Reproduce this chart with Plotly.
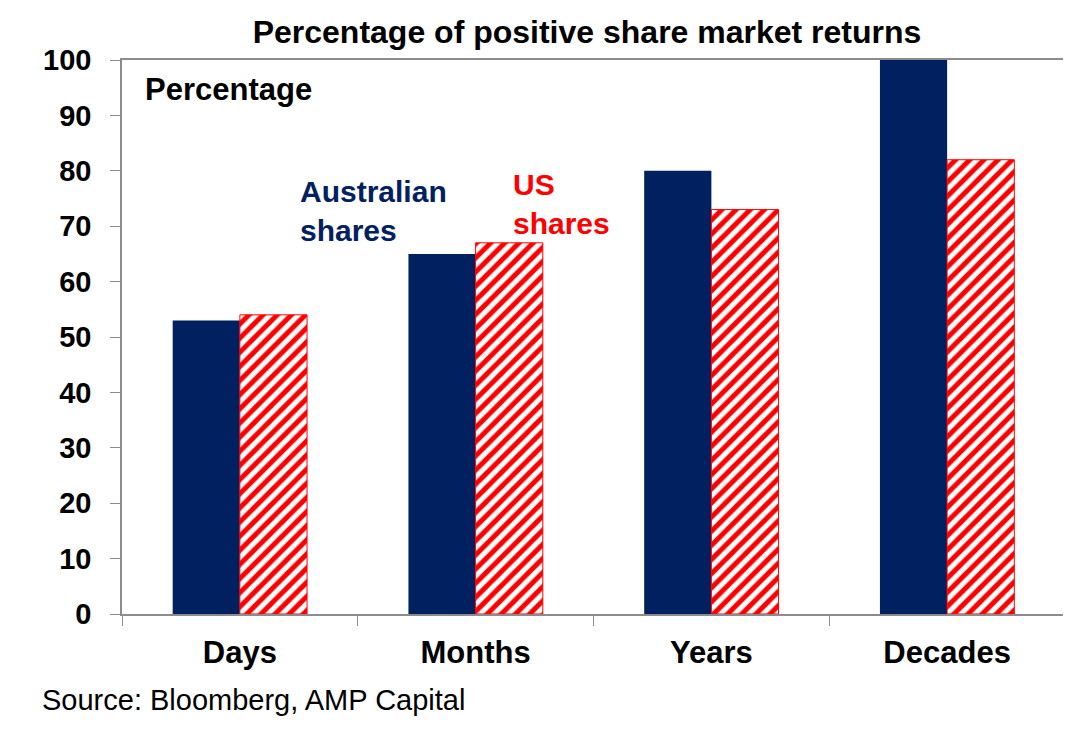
import plotly.graph_objects as go

# === DATA ===
periods = ['Days', 'Months', 'Years', 'Decades']
australian_shares = [53, 65, 80, 100]
us_shares = [54, 67, 73, 82]

navy = '#002060'
red = '#FF0000'
axis_grey = '#8C8C8C'

fig = go.Figure()

fig.add_trace(go.Bar(
    x=periods, y=australian_shares, name='Australian shares',
    marker=dict(color=navy, line=dict(width=0)),
))

fig.add_trace(go.Bar(
    x=periods, y=us_shares, name='US shares',
    marker=dict(
        color='white',
        line=dict(color=red, width=1),
        pattern=dict(shape='/', fillmode='replace', fgcolor=red, fgopacity=1,
                     bgcolor='white', size=10, solidity=0.5),
    ),
))

# page body has an 8px margin, so the figure is a bit smaller than the window
fig.update_layout(
    width=1063, height=727,
    margin=dict(l=114, r=4, t=52, b=121),
    paper_bgcolor='white', plot_bgcolor='white',
    barmode='group', bargap=0.43, bargroupgap=0,
    showlegend=False,
    font=dict(family='Arial, Liberation Sans, sans-serif', color='black'),
    title=dict(
        text='<b>Percentage of positive share market returns</b>',
        x=0.5447, xanchor='center', y=0.967, yanchor='middle',
        font=dict(size=32, color='black'),
    ),
)

fig.update_xaxes(
    showline=True, linecolor=axis_grey, linewidth=1.5, mirror=True,
    ticks='outside', tickson='boundaries', ticklen=10, tickcolor=axis_grey,
    tickfont=dict(size=31, color='black'),
    tickprefix='<b>', ticksuffix='</b>', ticklabelstandoff=10,
    showgrid=False,
)

fig.update_yaxes(
    range=[0, 100], dtick=10,
    showline=True, linecolor=axis_grey, linewidth=1.5, mirror=True,
    ticks='outside', ticklen=10, tickcolor=axis_grey,
    tickfont=dict(size=29, color='black'),
    tickprefix='<b>', ticksuffix='</b>', ticklabelstandoff=13,
    showgrid=False, zeroline=False,
)

# in-plot labels
fig.add_annotation(
    text='<b>Percentage</b>', xref='paper', yref='paper',
    x=0.022, y=0.946, xanchor='left', yanchor='middle', showarrow=False,
    font=dict(size=31, color='black'),
)
fig.add_annotation(
    text='<b>Australian<br>shares</b>', xref='paper', yref='paper',
    x=0.187, y=0.727, xanchor='left', yanchor='middle', showarrow=False, align='left',
    font=dict(size=30, color=navy),
)
fig.add_annotation(
    text='<b>US<br>shares</b>', xref='paper', yref='paper',
    x=0.413, y=0.74, xanchor='left', yanchor='middle', showarrow=False, align='left',
    font=dict(size=30, color=red),
)

# source note
fig.add_annotation(
    text='Source: Bloomberg, AMP Capital', xref='paper', yref='paper',
    x=-0.0868, y=-0.155, xanchor='left', yanchor='middle', showarrow=False,
    font=dict(size=29, color='black'),
)

fig.write_html("out.html")
